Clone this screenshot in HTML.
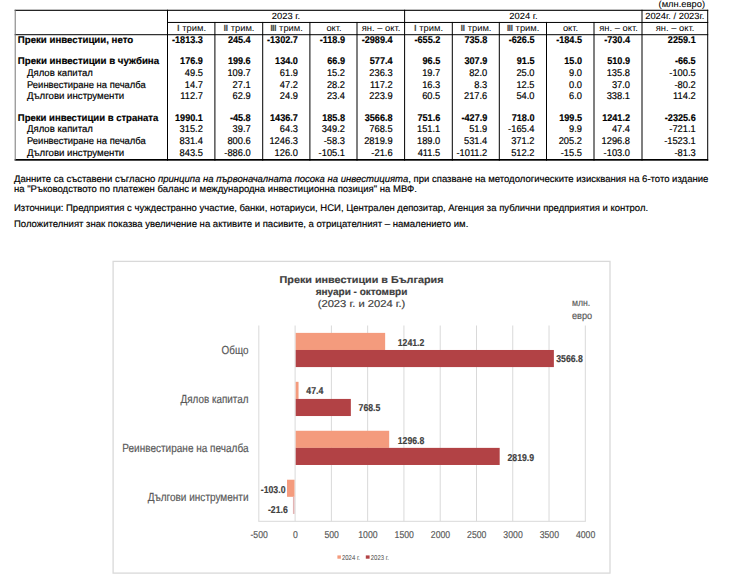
<!DOCTYPE html>
<html lang="bg"><head><meta charset="utf-8"><title>Преки инвестиции</title>
<style>
html,body{margin:0;padding:0;background:#fff;width:740px;height:584px;overflow:hidden}
svg{display:block;text-rendering:geometricPrecision;font-family:"Liberation Sans",Arial,sans-serif}
</style></head><body>
<svg width="740" height="584" viewBox="0 0 740 584">
<rect x="14.70" y="9.75" width="693.50" height="1.10" fill="#000"/>
<rect x="167.00" y="21.95" width="541.20" height="1.00" fill="#000"/>
<rect x="14.70" y="34.20" width="693.50" height="1.00" fill="#000"/>
<rect x="14.70" y="159.00" width="693.50" height="1.70" fill="#000"/>
<rect x="14.70" y="9.75" width="1.00" height="151.00" fill="#777"/>
<rect x="167.00" y="9.75" width="1.00" height="150.95" fill="#000"/>
<rect x="214.40" y="21.95" width="1.00" height="138.75" fill="#000"/>
<rect x="262.20" y="21.95" width="1.00" height="138.75" fill="#000"/>
<rect x="309.40" y="21.95" width="1.00" height="138.75" fill="#000"/>
<rect x="356.50" y="21.95" width="1.00" height="138.75" fill="#000"/>
<rect x="404.10" y="9.75" width="1.00" height="150.95" fill="#000"/>
<rect x="451.80" y="21.95" width="1.00" height="138.75" fill="#000"/>
<rect x="498.80" y="21.95" width="1.00" height="138.75" fill="#000"/>
<rect x="546.00" y="21.95" width="1.00" height="138.75" fill="#000"/>
<rect x="593.50" y="21.95" width="1.00" height="138.75" fill="#000"/>
<rect x="641.50" y="9.75" width="1.00" height="150.95" fill="#000"/>
<rect x="707.20" y="9.75" width="1.00" height="150.95" fill="#000"/>
<text transform="translate(705.00 6.80) scale(1.040 1)" font-size="9" text-anchor="end" stroke="#000" stroke-width="0.08">(млн.евро)</text>
<text transform="translate(286.00 18.70) scale(1.040 1)" font-size="9" text-anchor="middle" stroke="#000" stroke-width="0.08">2023 г.</text>
<text transform="translate(523.50 18.70) scale(1.040 1)" font-size="9" text-anchor="middle" stroke="#000" stroke-width="0.08">2024 г.</text>
<text transform="translate(674.80 18.70) scale(1.040 1)" font-size="9" text-anchor="middle" stroke="#000" stroke-width="0.08">2024г. / 2023г.</text>
<text transform="translate(191.50 30.5) scale(1.04 1)" font-size="9" text-anchor="middle"><tspan font-weight="bold" letter-spacing="-0.7" fill="#4a4a4a">I</tspan><tspan dx="0.7"> трим.</tspan></text>
<text transform="translate(239.00 30.5) scale(1.04 1)" font-size="9" text-anchor="middle"><tspan font-weight="bold" letter-spacing="-0.7" fill="#4a4a4a">II</tspan><tspan dx="0.7"> трим.</tspan></text>
<text transform="translate(286.50 30.5) scale(1.04 1)" font-size="9" text-anchor="middle"><tspan font-weight="bold" letter-spacing="-0.7" fill="#4a4a4a">III</tspan><tspan dx="0.7"> трим.</tspan></text>
<text transform="translate(334.00 30.50) scale(1.040 1)" font-size="9" text-anchor="middle">окт.</text>
<text transform="translate(381.00 30.50) scale(1.040 1)" font-size="9" text-anchor="middle">ян. – окт.</text>
<text transform="translate(428.50 30.5) scale(1.04 1)" font-size="9" text-anchor="middle"><tspan font-weight="bold" letter-spacing="-0.7" fill="#4a4a4a">I</tspan><tspan dx="0.7"> трим.</tspan></text>
<text transform="translate(476.00 30.5) scale(1.04 1)" font-size="9" text-anchor="middle"><tspan font-weight="bold" letter-spacing="-0.7" fill="#4a4a4a">II</tspan><tspan dx="0.7"> трим.</tspan></text>
<text transform="translate(523.00 30.5) scale(1.04 1)" font-size="9" text-anchor="middle"><tspan font-weight="bold" letter-spacing="-0.7" fill="#4a4a4a">III</tspan><tspan dx="0.7"> трим.</tspan></text>
<text transform="translate(570.50 30.50) scale(1.040 1)" font-size="9" text-anchor="middle">окт.</text>
<text transform="translate(618.50 30.50) scale(1.040 1)" font-size="9" text-anchor="middle">ян. – окт.</text>
<text transform="translate(675.00 30.50) scale(1.040 1)" font-size="9" text-anchor="middle">ян. – окт.</text>
<text transform="translate(17.80 42.70) scale(0.987 1)" font-size="9.8" font-weight="bold" stroke="#000" stroke-width="0.18">Преки инвестиции, нето</text>
<text transform="translate(202.90 42.70) scale(0.930 1)" font-size="9.8" font-weight="bold" text-anchor="end" stroke="#000" stroke-width="0.18">-1813.3</text>
<text transform="translate(250.70 42.70) scale(0.930 1)" font-size="9.8" font-weight="bold" text-anchor="end" stroke="#000" stroke-width="0.18">245.4</text>
<text transform="translate(297.90 42.70) scale(0.930 1)" font-size="9.8" font-weight="bold" text-anchor="end" stroke="#000" stroke-width="0.18">-1302.7</text>
<text transform="translate(345.00 42.70) scale(0.930 1)" font-size="9.8" font-weight="bold" text-anchor="end" stroke="#000" stroke-width="0.18">-118.9</text>
<text transform="translate(392.60 42.70) scale(0.930 1)" font-size="9.8" font-weight="bold" text-anchor="end" stroke="#000" stroke-width="0.18">-2989.4</text>
<text transform="translate(440.30 42.70) scale(0.930 1)" font-size="9.8" font-weight="bold" text-anchor="end" stroke="#000" stroke-width="0.18">-655.2</text>
<text transform="translate(487.30 42.70) scale(0.930 1)" font-size="9.8" font-weight="bold" text-anchor="end" stroke="#000" stroke-width="0.18">735.8</text>
<text transform="translate(534.50 42.70) scale(0.930 1)" font-size="9.8" font-weight="bold" text-anchor="end" stroke="#000" stroke-width="0.18">-626.5</text>
<text transform="translate(582.00 42.70) scale(0.930 1)" font-size="9.8" font-weight="bold" text-anchor="end" stroke="#000" stroke-width="0.18">-184.5</text>
<text transform="translate(630.00 42.70) scale(0.930 1)" font-size="9.8" font-weight="bold" text-anchor="end" stroke="#000" stroke-width="0.18">-730.4</text>
<text transform="translate(695.70 42.70) scale(0.930 1)" font-size="9.8" font-weight="bold" text-anchor="end" stroke="#000" stroke-width="0.18">2259.1</text>
<text transform="translate(17.80 63.60) scale(0.990 1)" font-size="9.8" font-weight="bold" stroke="#000" stroke-width="0.18">Преки инвестиции в чужбина</text>
<text transform="translate(202.90 63.60) scale(0.930 1)" font-size="9.8" font-weight="bold" text-anchor="end" stroke="#000" stroke-width="0.18">176.9</text>
<text transform="translate(250.70 63.60) scale(0.930 1)" font-size="9.8" font-weight="bold" text-anchor="end" stroke="#000" stroke-width="0.18">199.6</text>
<text transform="translate(297.90 63.60) scale(0.930 1)" font-size="9.8" font-weight="bold" text-anchor="end" stroke="#000" stroke-width="0.18">134.0</text>
<text transform="translate(345.00 63.60) scale(0.930 1)" font-size="9.8" font-weight="bold" text-anchor="end" stroke="#000" stroke-width="0.18">66.9</text>
<text transform="translate(392.60 63.60) scale(0.930 1)" font-size="9.8" font-weight="bold" text-anchor="end" stroke="#000" stroke-width="0.18">577.4</text>
<text transform="translate(440.30 63.60) scale(0.930 1)" font-size="9.8" font-weight="bold" text-anchor="end" stroke="#000" stroke-width="0.18">96.5</text>
<text transform="translate(487.30 63.60) scale(0.930 1)" font-size="9.8" font-weight="bold" text-anchor="end" stroke="#000" stroke-width="0.18">307.9</text>
<text transform="translate(534.50 63.60) scale(0.930 1)" font-size="9.8" font-weight="bold" text-anchor="end" stroke="#000" stroke-width="0.18">91.5</text>
<text transform="translate(582.00 63.60) scale(0.930 1)" font-size="9.8" font-weight="bold" text-anchor="end" stroke="#000" stroke-width="0.18">15.0</text>
<text transform="translate(630.00 63.60) scale(0.930 1)" font-size="9.8" font-weight="bold" text-anchor="end" stroke="#000" stroke-width="0.18">510.9</text>
<text transform="translate(695.70 63.60) scale(0.930 1)" font-size="9.8" font-weight="bold" text-anchor="end" stroke="#000" stroke-width="0.18">-66.5</text>
<text transform="translate(27.00 76.10) scale(0.977 1)" font-size="9.8" stroke="#000" stroke-width="0.18">Дялов капитал</text>
<text transform="translate(202.90 76.10) scale(0.950 1)" font-size="9.8" text-anchor="end" stroke="#000" stroke-width="0.18">49.5</text>
<text transform="translate(250.70 76.10) scale(0.950 1)" font-size="9.8" text-anchor="end" stroke="#000" stroke-width="0.18">109.7</text>
<text transform="translate(297.90 76.10) scale(0.950 1)" font-size="9.8" text-anchor="end" stroke="#000" stroke-width="0.18">61.9</text>
<text transform="translate(345.00 76.10) scale(0.950 1)" font-size="9.8" text-anchor="end" stroke="#000" stroke-width="0.18">15.2</text>
<text transform="translate(392.60 76.10) scale(0.950 1)" font-size="9.8" text-anchor="end" stroke="#000" stroke-width="0.18">236.3</text>
<text transform="translate(440.30 76.10) scale(0.950 1)" font-size="9.8" text-anchor="end" stroke="#000" stroke-width="0.18">19.7</text>
<text transform="translate(487.30 76.10) scale(0.950 1)" font-size="9.8" text-anchor="end" stroke="#000" stroke-width="0.18">82.0</text>
<text transform="translate(534.50 76.10) scale(0.950 1)" font-size="9.8" text-anchor="end" stroke="#000" stroke-width="0.18">25.0</text>
<text transform="translate(582.00 76.10) scale(0.950 1)" font-size="9.8" text-anchor="end" stroke="#000" stroke-width="0.18">9.0</text>
<text transform="translate(630.00 76.10) scale(0.950 1)" font-size="9.8" text-anchor="end" stroke="#000" stroke-width="0.18">135.8</text>
<text transform="translate(695.70 76.10) scale(0.950 1)" font-size="9.8" text-anchor="end" stroke="#000" stroke-width="0.18">-100.5</text>
<text transform="translate(27.00 87.60) scale(0.962 1)" font-size="9.8" stroke="#000" stroke-width="0.18">Реинвестиране на печалба</text>
<text transform="translate(202.90 87.60) scale(0.950 1)" font-size="9.8" text-anchor="end" stroke="#000" stroke-width="0.18">14.7</text>
<text transform="translate(250.70 87.60) scale(0.950 1)" font-size="9.8" text-anchor="end" stroke="#000" stroke-width="0.18">27.1</text>
<text transform="translate(297.90 87.60) scale(0.950 1)" font-size="9.8" text-anchor="end" stroke="#000" stroke-width="0.18">47.2</text>
<text transform="translate(345.00 87.60) scale(0.950 1)" font-size="9.8" text-anchor="end" stroke="#000" stroke-width="0.18">28.2</text>
<text transform="translate(392.60 87.60) scale(0.950 1)" font-size="9.8" text-anchor="end" stroke="#000" stroke-width="0.18">117.2</text>
<text transform="translate(440.30 87.60) scale(0.950 1)" font-size="9.8" text-anchor="end" stroke="#000" stroke-width="0.18">16.3</text>
<text transform="translate(487.30 87.60) scale(0.950 1)" font-size="9.8" text-anchor="end" stroke="#000" stroke-width="0.18">8.3</text>
<text transform="translate(534.50 87.60) scale(0.950 1)" font-size="9.8" text-anchor="end" stroke="#000" stroke-width="0.18">12.5</text>
<text transform="translate(582.00 87.60) scale(0.950 1)" font-size="9.8" text-anchor="end" stroke="#000" stroke-width="0.18">0.0</text>
<text transform="translate(630.00 87.60) scale(0.950 1)" font-size="9.8" text-anchor="end" stroke="#000" stroke-width="0.18">37.0</text>
<text transform="translate(695.70 87.60) scale(0.950 1)" font-size="9.8" text-anchor="end" stroke="#000" stroke-width="0.18">-80.2</text>
<text transform="translate(27.00 99.35) scale(0.986 1)" font-size="9.8" stroke="#000" stroke-width="0.18">Дългови инструменти</text>
<text transform="translate(202.90 99.35) scale(0.950 1)" font-size="9.8" text-anchor="end" stroke="#000" stroke-width="0.18">112.7</text>
<text transform="translate(250.70 99.35) scale(0.950 1)" font-size="9.8" text-anchor="end" stroke="#000" stroke-width="0.18">62.9</text>
<text transform="translate(297.90 99.35) scale(0.950 1)" font-size="9.8" text-anchor="end" stroke="#000" stroke-width="0.18">24.9</text>
<text transform="translate(345.00 99.35) scale(0.950 1)" font-size="9.8" text-anchor="end" stroke="#000" stroke-width="0.18">23.4</text>
<text transform="translate(392.60 99.35) scale(0.950 1)" font-size="9.8" text-anchor="end" stroke="#000" stroke-width="0.18">223.9</text>
<text transform="translate(440.30 99.35) scale(0.950 1)" font-size="9.8" text-anchor="end" stroke="#000" stroke-width="0.18">60.5</text>
<text transform="translate(487.30 99.35) scale(0.950 1)" font-size="9.8" text-anchor="end" stroke="#000" stroke-width="0.18">217.6</text>
<text transform="translate(534.50 99.35) scale(0.950 1)" font-size="9.8" text-anchor="end" stroke="#000" stroke-width="0.18">54.0</text>
<text transform="translate(582.00 99.35) scale(0.950 1)" font-size="9.8" text-anchor="end" stroke="#000" stroke-width="0.18">6.0</text>
<text transform="translate(630.00 99.35) scale(0.950 1)" font-size="9.8" text-anchor="end" stroke="#000" stroke-width="0.18">338.1</text>
<text transform="translate(695.70 99.35) scale(0.950 1)" font-size="9.8" text-anchor="end" stroke="#000" stroke-width="0.18">114.2</text>
<text transform="translate(17.80 120.80) scale(0.973 1)" font-size="9.8" font-weight="bold" stroke="#000" stroke-width="0.18">Преки инвестиции в страната</text>
<text transform="translate(202.90 120.80) scale(0.930 1)" font-size="9.8" font-weight="bold" text-anchor="end" stroke="#000" stroke-width="0.18">1990.1</text>
<text transform="translate(250.70 120.80) scale(0.930 1)" font-size="9.8" font-weight="bold" text-anchor="end" stroke="#000" stroke-width="0.18">-45.8</text>
<text transform="translate(297.90 120.80) scale(0.930 1)" font-size="9.8" font-weight="bold" text-anchor="end" stroke="#000" stroke-width="0.18">1436.7</text>
<text transform="translate(345.00 120.80) scale(0.930 1)" font-size="9.8" font-weight="bold" text-anchor="end" stroke="#000" stroke-width="0.18">185.8</text>
<text transform="translate(392.60 120.80) scale(0.930 1)" font-size="9.8" font-weight="bold" text-anchor="end" stroke="#000" stroke-width="0.18">3566.8</text>
<text transform="translate(440.30 120.80) scale(0.930 1)" font-size="9.8" font-weight="bold" text-anchor="end" stroke="#000" stroke-width="0.18">751.6</text>
<text transform="translate(487.30 120.80) scale(0.930 1)" font-size="9.8" font-weight="bold" text-anchor="end" stroke="#000" stroke-width="0.18">-427.9</text>
<text transform="translate(534.50 120.80) scale(0.930 1)" font-size="9.8" font-weight="bold" text-anchor="end" stroke="#000" stroke-width="0.18">718.0</text>
<text transform="translate(582.00 120.80) scale(0.930 1)" font-size="9.8" font-weight="bold" text-anchor="end" stroke="#000" stroke-width="0.18">199.5</text>
<text transform="translate(630.00 120.80) scale(0.930 1)" font-size="9.8" font-weight="bold" text-anchor="end" stroke="#000" stroke-width="0.18">1241.2</text>
<text transform="translate(695.70 120.80) scale(0.930 1)" font-size="9.8" font-weight="bold" text-anchor="end" stroke="#000" stroke-width="0.18">-2325.6</text>
<text transform="translate(27.00 132.40) scale(0.977 1)" font-size="9.8" stroke="#000" stroke-width="0.18">Дялов капитал</text>
<text transform="translate(202.90 132.40) scale(0.950 1)" font-size="9.8" text-anchor="end" stroke="#000" stroke-width="0.18">315.2</text>
<text transform="translate(250.70 132.40) scale(0.950 1)" font-size="9.8" text-anchor="end" stroke="#000" stroke-width="0.18">39.7</text>
<text transform="translate(297.90 132.40) scale(0.950 1)" font-size="9.8" text-anchor="end" stroke="#000" stroke-width="0.18">64.3</text>
<text transform="translate(345.00 132.40) scale(0.950 1)" font-size="9.8" text-anchor="end" stroke="#000" stroke-width="0.18">349.2</text>
<text transform="translate(392.60 132.40) scale(0.950 1)" font-size="9.8" text-anchor="end" stroke="#000" stroke-width="0.18">768.5</text>
<text transform="translate(440.30 132.40) scale(0.950 1)" font-size="9.8" text-anchor="end" stroke="#000" stroke-width="0.18">151.1</text>
<text transform="translate(487.30 132.40) scale(0.950 1)" font-size="9.8" text-anchor="end" stroke="#000" stroke-width="0.18">51.9</text>
<text transform="translate(534.50 132.40) scale(0.950 1)" font-size="9.8" text-anchor="end" stroke="#000" stroke-width="0.18">-165.4</text>
<text transform="translate(582.00 132.40) scale(0.950 1)" font-size="9.8" text-anchor="end" stroke="#000" stroke-width="0.18">9.9</text>
<text transform="translate(630.00 132.40) scale(0.950 1)" font-size="9.8" text-anchor="end" stroke="#000" stroke-width="0.18">47.4</text>
<text transform="translate(695.70 132.40) scale(0.950 1)" font-size="9.8" text-anchor="end" stroke="#000" stroke-width="0.18">-721.1</text>
<text transform="translate(27.00 144.30) scale(0.962 1)" font-size="9.8" stroke="#000" stroke-width="0.18">Реинвестиране на печалба</text>
<text transform="translate(202.90 144.30) scale(0.950 1)" font-size="9.8" text-anchor="end" stroke="#000" stroke-width="0.18">831.4</text>
<text transform="translate(250.70 144.30) scale(0.950 1)" font-size="9.8" text-anchor="end" stroke="#000" stroke-width="0.18">800.6</text>
<text transform="translate(297.90 144.30) scale(0.950 1)" font-size="9.8" text-anchor="end" stroke="#000" stroke-width="0.18">1246.3</text>
<text transform="translate(345.00 144.30) scale(0.950 1)" font-size="9.8" text-anchor="end" stroke="#000" stroke-width="0.18">-58.3</text>
<text transform="translate(392.60 144.30) scale(0.950 1)" font-size="9.8" text-anchor="end" stroke="#000" stroke-width="0.18">2819.9</text>
<text transform="translate(440.30 144.30) scale(0.950 1)" font-size="9.8" text-anchor="end" stroke="#000" stroke-width="0.18">189.0</text>
<text transform="translate(487.30 144.30) scale(0.950 1)" font-size="9.8" text-anchor="end" stroke="#000" stroke-width="0.18">531.4</text>
<text transform="translate(534.50 144.30) scale(0.950 1)" font-size="9.8" text-anchor="end" stroke="#000" stroke-width="0.18">371.2</text>
<text transform="translate(582.00 144.30) scale(0.950 1)" font-size="9.8" text-anchor="end" stroke="#000" stroke-width="0.18">205.2</text>
<text transform="translate(630.00 144.30) scale(0.950 1)" font-size="9.8" text-anchor="end" stroke="#000" stroke-width="0.18">1296.8</text>
<text transform="translate(695.70 144.30) scale(0.950 1)" font-size="9.8" text-anchor="end" stroke="#000" stroke-width="0.18">-1523.1</text>
<text transform="translate(27.00 155.80) scale(0.986 1)" font-size="9.8" stroke="#000" stroke-width="0.18">Дългови инструменти</text>
<text transform="translate(202.90 155.80) scale(0.950 1)" font-size="9.8" text-anchor="end" stroke="#000" stroke-width="0.18">843.5</text>
<text transform="translate(250.70 155.80) scale(0.950 1)" font-size="9.8" text-anchor="end" stroke="#000" stroke-width="0.18">-886.0</text>
<text transform="translate(297.90 155.80) scale(0.950 1)" font-size="9.8" text-anchor="end" stroke="#000" stroke-width="0.18">126.0</text>
<text transform="translate(345.00 155.80) scale(0.950 1)" font-size="9.8" text-anchor="end" stroke="#000" stroke-width="0.18">-105.1</text>
<text transform="translate(392.60 155.80) scale(0.950 1)" font-size="9.8" text-anchor="end" stroke="#000" stroke-width="0.18">-21.6</text>
<text transform="translate(440.30 155.80) scale(0.950 1)" font-size="9.8" text-anchor="end" stroke="#000" stroke-width="0.18">411.5</text>
<text transform="translate(487.30 155.80) scale(0.950 1)" font-size="9.8" text-anchor="end" stroke="#000" stroke-width="0.18">-1011.2</text>
<text transform="translate(534.50 155.80) scale(0.950 1)" font-size="9.8" text-anchor="end" stroke="#000" stroke-width="0.18">512.2</text>
<text transform="translate(582.00 155.80) scale(0.950 1)" font-size="9.8" text-anchor="end" stroke="#000" stroke-width="0.18">-15.5</text>
<text transform="translate(630.00 155.80) scale(0.950 1)" font-size="9.8" text-anchor="end" stroke="#000" stroke-width="0.18">-103.0</text>
<text transform="translate(695.70 155.80) scale(0.950 1)" font-size="9.8" text-anchor="end" stroke="#000" stroke-width="0.18">-81.3</text>
<text transform="translate(14 181.5) scale(0.9937500000000001 1)" font-size="9.6" stroke="#000" stroke-width="0.18">Данните са съставени съгласно <tspan font-style="italic">принципа на първоначалната посока на инвестицията</tspan>, при спазване на методологическите изисквания на 6-тото издание</text>
<text transform="translate(14.00 192.30) scale(0.994 1)" font-size="9.6" stroke="#000" stroke-width="0.18">на "Ръководството по платежен баланс и международна инвестиционна позиция" на МВФ.</text>
<text transform="translate(14.00 210.90) scale(0.990 1)" font-size="9.6" stroke="#000" stroke-width="0.18">Източници: Предприятия с чуждестранно участие, банки, нотариуси, НСИ, Централен депозитар, Агенция за публични предприятия и контрол.</text>
<text transform="translate(14.00 226.60) scale(0.994 1)" font-size="9.6" stroke="#000" stroke-width="0.18">Положителният знак показва увеличение на активите и пасивите, а отрицателният – намалението им.</text>
<rect x="113.1" y="261.4" width="496.9" height="311.7" fill="#fff" stroke="#d9d9d9" stroke-width="1.3"/>
<rect x="258.33" y="325.5" width="1" height="195.80" fill="#d9d9d9"/>
<rect x="294.60" y="325.5" width="1" height="195.80" fill="#d9d9d9"/>
<rect x="330.88" y="325.5" width="1" height="195.80" fill="#d9d9d9"/>
<rect x="367.15" y="325.5" width="1" height="195.80" fill="#d9d9d9"/>
<rect x="403.43" y="325.5" width="1" height="195.80" fill="#d9d9d9"/>
<rect x="439.70" y="325.5" width="1" height="195.80" fill="#d9d9d9"/>
<rect x="475.98" y="325.5" width="1" height="195.80" fill="#d9d9d9"/>
<rect x="512.25" y="325.5" width="1" height="195.80" fill="#d9d9d9"/>
<rect x="548.53" y="325.5" width="1" height="195.80" fill="#d9d9d9"/>
<rect x="584.80" y="325.5" width="1" height="195.80" fill="#d9d9d9"/>
<rect x="258.33" y="520.80" width="327.48" height="1" fill="#d9d9d9"/>
<rect x="295.70" y="332.88" width="89.45" height="17.10" fill="#F49B7D"/>
<rect x="295.70" y="349.98" width="258.17" height="17.10" fill="#B24245"/>
<text transform="translate(248.50 354.48) scale(0.846 1)" font-size="11.7" text-anchor="end" fill="#595959" stroke="#595959" stroke-width="0.18">Общо</text>
<rect x="295.70" y="381.82" width="2.84" height="17.10" fill="#F49B7D"/>
<rect x="295.70" y="398.93" width="55.15" height="17.10" fill="#B24245"/>
<text transform="translate(248.50 403.42) scale(0.846 1)" font-size="11.7" text-anchor="end" fill="#595959" stroke="#595959" stroke-width="0.18">Дялов капитал</text>
<rect x="295.70" y="430.77" width="93.48" height="17.10" fill="#F49B7D"/>
<rect x="295.70" y="447.88" width="203.98" height="17.10" fill="#B24245"/>
<text transform="translate(248.50 452.38) scale(0.857 1)" font-size="11.7" text-anchor="end" fill="#595959" stroke="#595959" stroke-width="0.18">Реинвестиране на печалба</text>
<rect x="287.03" y="479.72" width="7.47" height="17.10" fill="#F49B7D"/>
<rect x="292.93" y="496.82" width="1.57" height="17.10" fill="#E2B4B4"/>
<text transform="translate(248.50 501.32) scale(0.857 1)" font-size="11.7" text-anchor="end" fill="#595959" stroke="#595959" stroke-width="0.18">Дългови инструменти</text>
<text transform="translate(397.70 345.50) scale(0.870 1)" font-size="10" font-weight="bold" fill="#404040" stroke="#404040" stroke-width="0.18">1241.2</text>
<text transform="translate(556.20 362.40) scale(0.870 1)" font-size="10" font-weight="bold" fill="#404040" stroke="#404040" stroke-width="0.18">3566.8</text>
<text transform="translate(306.30 394.30) scale(0.870 1)" font-size="10" font-weight="bold" fill="#404040" stroke="#404040" stroke-width="0.18">47.4</text>
<text transform="translate(358.60 411.30) scale(0.870 1)" font-size="10" font-weight="bold" fill="#404040" stroke="#404040" stroke-width="0.18">768.5</text>
<text transform="translate(397.70 443.80) scale(0.870 1)" font-size="10" font-weight="bold" fill="#404040" stroke="#404040" stroke-width="0.18">1296.8</text>
<text transform="translate(507.50 460.80) scale(0.870 1)" font-size="10" font-weight="bold" fill="#404040" stroke="#404040" stroke-width="0.18">2819.9</text>
<text transform="translate(260.80 492.50) scale(0.870 1)" font-size="10" font-weight="bold" fill="#404040" stroke="#404040" stroke-width="0.18">-103.0</text>
<text transform="translate(267.90 512.70) scale(0.870 1)" font-size="10" font-weight="bold" fill="#404040" stroke="#404040" stroke-width="0.18">-21.6</text>
<text transform="translate(259.13 537.80) scale(0.870 1)" font-size="10" text-anchor="middle" fill="#595959" stroke="#595959" stroke-width="0.18">-500</text>
<text transform="translate(295.40 537.80) scale(0.870 1)" font-size="10" text-anchor="middle" fill="#595959" stroke="#595959" stroke-width="0.18">0</text>
<text transform="translate(331.68 537.80) scale(0.870 1)" font-size="10" text-anchor="middle" fill="#595959" stroke="#595959" stroke-width="0.18">500</text>
<text transform="translate(367.95 537.80) scale(0.870 1)" font-size="10" text-anchor="middle" fill="#595959" stroke="#595959" stroke-width="0.18">1000</text>
<text transform="translate(404.23 537.80) scale(0.870 1)" font-size="10" text-anchor="middle" fill="#595959" stroke="#595959" stroke-width="0.18">1500</text>
<text transform="translate(440.50 537.80) scale(0.870 1)" font-size="10" text-anchor="middle" fill="#595959" stroke="#595959" stroke-width="0.18">2000</text>
<text transform="translate(476.78 537.80) scale(0.870 1)" font-size="10" text-anchor="middle" fill="#595959" stroke="#595959" stroke-width="0.18">2500</text>
<text transform="translate(513.05 537.80) scale(0.870 1)" font-size="10" text-anchor="middle" fill="#595959" stroke="#595959" stroke-width="0.18">3000</text>
<text transform="translate(549.33 537.80) scale(0.870 1)" font-size="10" text-anchor="middle" fill="#595959" stroke="#595959" stroke-width="0.18">3500</text>
<text transform="translate(585.60 537.80) scale(0.870 1)" font-size="10" text-anchor="middle" fill="#595959" stroke="#595959" stroke-width="0.18">4000</text>
<text transform="translate(361.50 282.80) scale(1.080 1)" font-size="10" font-weight="bold" text-anchor="middle" fill="#404040" stroke="#404040" stroke-width="0.18">Преки инвестиции в България</text>
<text transform="translate(361.50 294.60)" font-size="10" font-weight="bold" text-anchor="middle" fill="#404040" stroke="#404040" stroke-width="0.18">януари - октомври</text>
<text transform="translate(361.50 307.20) scale(1.120 1)" font-size="10" text-anchor="middle" fill="#404040" stroke="#404040" stroke-width="0.18">(2023 г. и 2024 г.)</text>
<text transform="translate(572.00 306.40) scale(0.870 1)" font-size="10" fill="#595959" stroke="#595959" stroke-width="0.18">млн.</text>
<text transform="translate(572.00 319.40) scale(0.920 1)" font-size="10" fill="#595959" stroke="#595959" stroke-width="0.18">евро</text>
<rect x="337.40" y="555.40" width="3.50" height="3.30" fill="#F49B7D"/>
<text transform="translate(342.00 559.80) scale(0.850 1)" font-size="7" fill="#595959" stroke="#595959" stroke-width="0.08">2024 г.</text>
<rect x="365.80" y="555.40" width="3.80" height="3.30" fill="#B24245"/>
<text transform="translate(370.80 559.80) scale(0.850 1)" font-size="7" fill="#595959" stroke="#595959" stroke-width="0.08">2023 г.</text>
</svg>
</body></html>
